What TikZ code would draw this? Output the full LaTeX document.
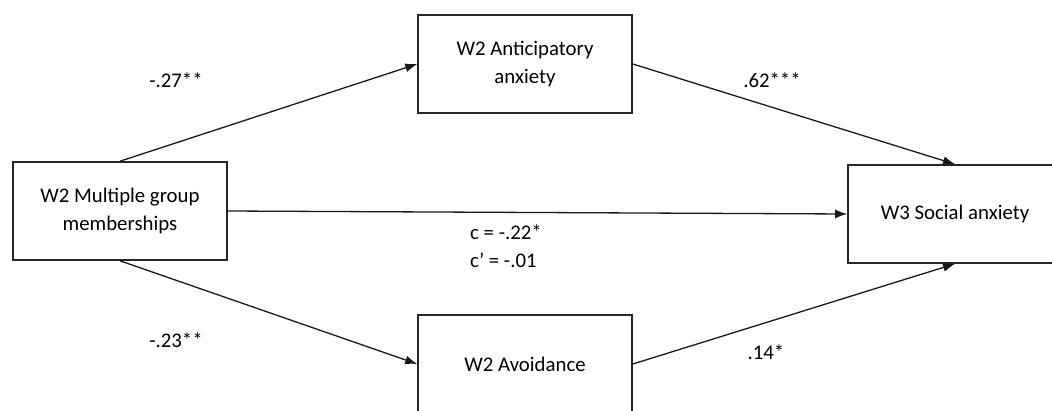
\documentclass[tikz,border=0pt]{standalone}
\usepackage{fontspec}
\setmainfont{Carlito}
\usetikzlibrary{arrows.meta}
\usetikzlibrary{positioning}

\begin{document}
\begin{tikzpicture}[x=1pt, y=-1pt,
 varnode/.style={rectangle, draw=black!85, line width=1.6pt, minimum width=214pt, minimum height=98pt, align=center, font=\fontsize{20.8}{28}\selectfont},
 coefnode/.style={font=\fontsize{20.8}{28}\selectfont, inner sep=0pt},
 path/.style={-{Latex[length=12pt,width=9pt]}, line width=1.3pt, draw=black!90}
 ]
 \useasboundingbox (0,0) rectangle (1052,410);

 %Nodes
 \node[varnode]      (multi_node)  at (120,211) {W2 Multiple group\\memberships};
 \node[varnode]      (antic_node)  at (525,64)  {W2 Anticipatory\\anxiety};
 \node[varnode]      (avoid_node)  at (525,364) {W2 Avoidance};
 \node[varnode]      (social_node) at (955,214) {W3 Social anxiety};

 \node[coefnode]     (a1_node) at (176,80)  {-.27**};
 \node[coefnode]     (b1_node) at (772,80)  {.62***};
 \node[coefnode]     (a2_node) at (176,340) {-.23**};
 \node[coefnode]     (b2_node) at (766,352) {.14*};
 \node[coefnode, align=left, anchor=north west] (c_node) at (470,225) {c = -.22*\\c’ = -.01};

 %Lines
 \draw[path] (multi_node.north) -- (antic_node.west);
 \draw[path] (antic_node.east) -- (social_node.north);
 \draw[path] (multi_node.east) -- (social_node.west);
 \draw[path] (multi_node.south) -- (avoid_node.west);
 \draw[path] (avoid_node.east) -- (social_node.south);
\end{tikzpicture}
\end{document}
